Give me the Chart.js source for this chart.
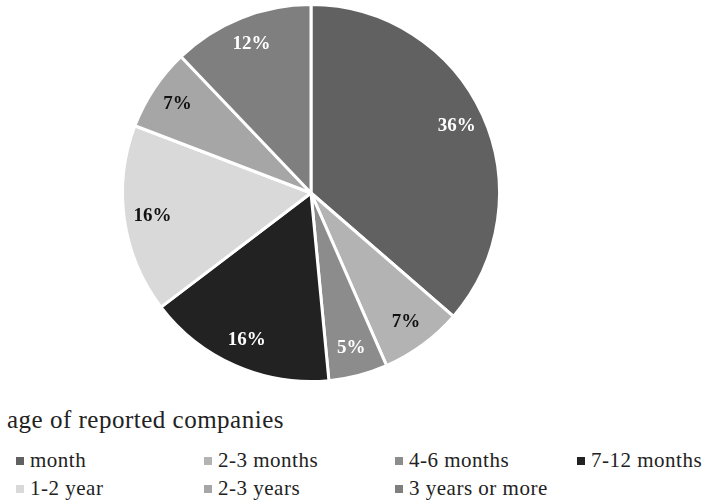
<!DOCTYPE html>
<html>
<head>
<meta charset="utf-8">
<script src="https://cdn.jsdelivr.net/npm/chart.js@4/dist/chart.umd.min.js"></script>
<style>
  body { margin: 0; background: #fff; }
  #wrap { position: relative; width: 718px; height: 504px; }
  #pieBox { position: absolute; left: 0; top: 0; width: 718px; height: 385px; }
  #titulo { position: absolute; left: 7px; top: 407px; font-family: "Liberation Serif", "Times New Roman", Times, serif; font-size: 25px; line-height: 25px; color: #222; letter-spacing: 0.5px; white-space: nowrap; }
  .item { position: absolute; font-family: "Liberation Serif", "Times New Roman", Times, serif; font-size: 21px; line-height: 21px; color: #222; white-space: nowrap; letter-spacing: 0.5px; }
  .caja { position: absolute; width: 8px; height: 8px; }
</style>
</head>
<body>
<div id="wrap">
  <div id="pieBox"><canvas id="myChart"></canvas></div>
  <div id="titulo"></div>
  <div id="leyenda"></div>
</div>
<script>
const categorias = ["month", "2-3 months", "4-6 months", "7-12 months", "1-2 year", "2-3 years", "3 years or more"];
const porcentajes = [36, 7, 5, 16, 16, 7, 12];
const colores = ["#616161", "#b3b3b3", "#8c8c8c", "#222222", "#d9d9d9", "#a6a6a6", "#7f7f7f"];
const coloresTexto = ["#fff", "#111", "#fff", "#fff", "#111", "#111", "#fff"];
const tituloLeyenda = "age of reported companies";

// columnas y filas de la leyenda
const columnasX = [16, 204, 395, 577];
const filasY = [450, 478];

document.querySelector("#titulo").textContent = tituloLeyenda;

let html = "";
categorias.forEach((cat, i) => {
  const col = i % 4;
  const fila = Math.floor(i / 4);
  const x = columnasX[col];
  const y = filasY[fila];
  html += `<div class="caja" style="left:${x}px;top:${y + 7}px;background:${colores[i]}"></div>`;
  html += `<div class="item" style="left:${x + 14}px;top:${y}px">${cat}</div>`;
});
document.querySelector("#leyenda").innerHTML = html;

const etiquetas = {
  id: "etiquetas",
  afterDatasetsDraw(chart) {
    const ctx = chart.ctx;
    const meta = chart.getDatasetMeta(0);
    ctx.save();
    ctx.font = "bold 19px 'Liberation Serif', 'Times New Roman', serif";
    ctx.textAlign = "center";
    ctx.textBaseline = "middle";
    meta.data.forEach((arc, i) => {
      const p = arc.getProps(["x", "y", "startAngle", "endAngle", "outerRadius"], true);
      const mid = (p.startAngle + p.endAngle) / 2;
      const r = p.outerRadius * 0.85;
      ctx.fillStyle = coloresTexto[i];
      ctx.fillText(porcentajes[i] + "%", p.x + Math.cos(mid) * r, p.y + Math.sin(mid) * r);
    });
    ctx.restore();
  }
};

const llamadoGrafico = document.querySelector("#myChart").getContext("2d");
const myChart = new Chart(llamadoGrafico, {
  type: "pie",
  data: {
    labels: categorias,
    datasets: [
      {
        data: porcentajes,
        backgroundColor: colores,
        borderColor: "#ffffff",
        borderWidth: 3,
      },
    ],
  },
  options: {
    responsive: true,
    maintainAspectRatio: false,
    animation: false,
    layout: { padding: { top: 3, bottom: 2, left: 0, right: 96 } },
    plugins: {
      legend: { display: false },
      tooltip: { enabled: false },
    },
  },
  plugins: [etiquetas],
});
</script>
</body>
</html>
